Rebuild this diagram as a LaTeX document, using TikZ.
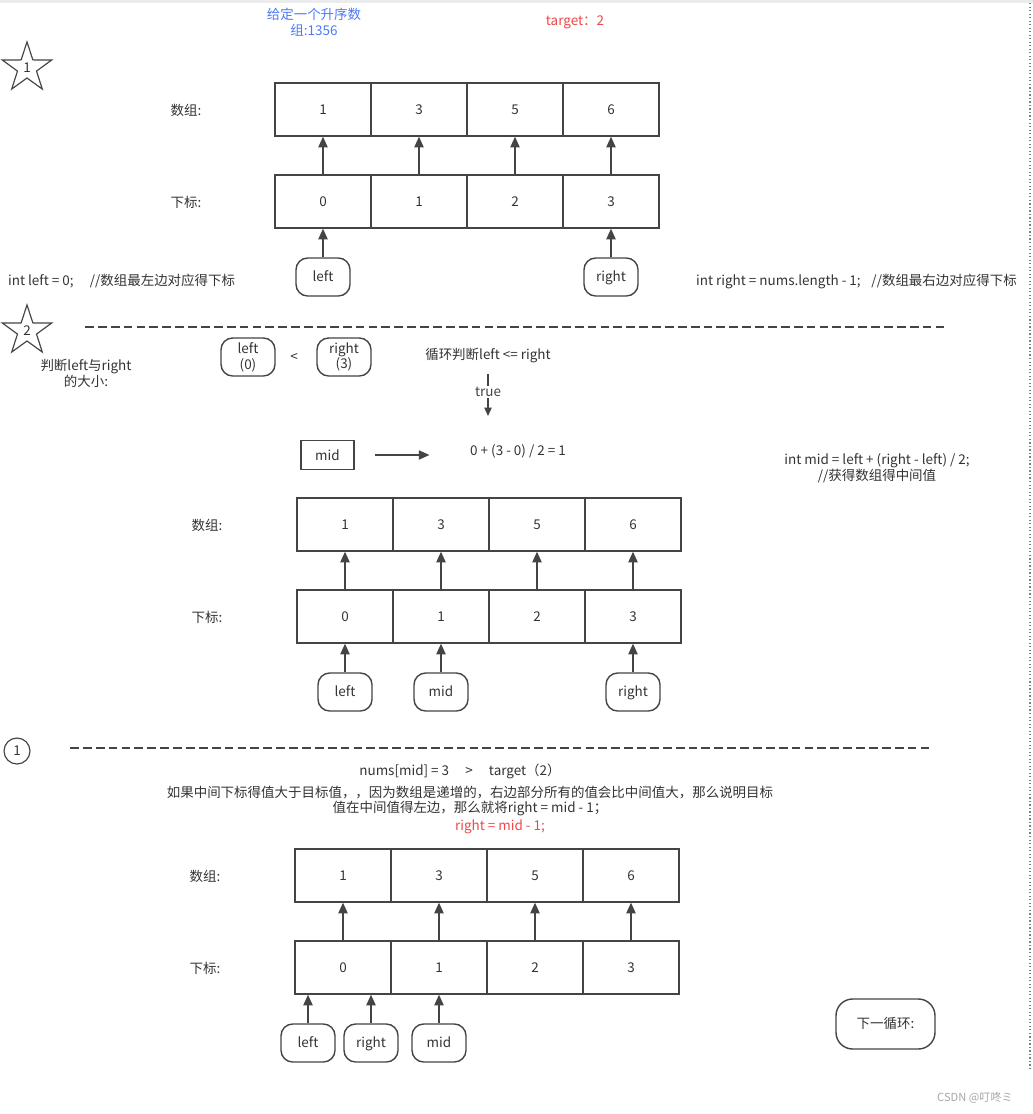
\documentclass[tikz,border=0pt]{standalone}
\usepackage{fontspec}
\setmainfont{Noto Sans CJK SC}
\usetikzlibrary{arrows.meta,positioning,shapes.geometric}
\definecolor{InkGray}{RGB}{51,51,51}
\definecolor{LineGray}{RGB}{68,68,68}
\definecolor{NoteBlue}{RGB}{77,121,246}
\definecolor{NoteRed}{RGB}{240,72,72}

\begin{document}
\begin{tikzpicture}[
    x=0.03cm, y=-0.03cm,
    font=\fontsize{11.5}{13.5}\selectfont, text=InkGray,
    cell/.style={draw=LineGray, line width=1.2pt, minimum width=2.88cm,
                 minimum height=1.59cm, inner sep=0pt},
    pill/.style={draw=LineGray, line width=1.2pt, rounded corners=3.5mm,
                 minimum width=1.62cm, minimum height=1.14cm, align=center, inner sep=2pt,
                 text height=1.6ex, text depth=0.3ex},
    arr/.style={-{Triangle[length=3.2mm,width=2.8mm]}, line width=1.2pt, LineGray},
    cut/.style={dash pattern=on 7.5pt off 3.5pt, line width=1pt, LineGray},
    note/.style={align=center, inner sep=1pt},
    badge/.style={star, star points=5, star point ratio=2.6, draw=LineGray,
                  line width=1pt, minimum size=1.56cm, inner sep=0pt}
  ]
    \useasboundingbox (0,0) rectangle (1033,1114);
    \fill[gray!15] (0,0) rectangle (1033,3);
    \draw[dotted, line width=1pt, gray] (1030,3) -- (1030,1070);

    % step 1: the array and its two ends
    \node[note, text=NoteBlue] (given) at (314,22) {给定一个升序数\\组:1356};
    \node[text=NoteRed] (target) at (575,22) {target：2};
    \node[badge] (s1) at (27,68) {1};
    \node (val1) at (186,110) {数组:};
    \node (idx1) at (186,202) {下标:};
    \foreach \v [count=\i from 0] in {1,3,5,6} {
      \node[cell] (a\i) at (323+96*\i,109.5) {\v};
      \node[cell] (b\i) at (323+96*\i,201.5) {\i};
      \draw[arr] (b\i) -- (a\i);
    }
    \node[pill] (left1) at (323,277) {left};
    \node[pill] (right1) at (611,277) {right};
    \draw[arr] (left1) -- (b0);
    \draw[arr] (right1) -- (b3);
    \node[anchor=west] (code1) at (4,281) {int left = 0;\hspace{1.2em}//数组最左边对应得下标};
    \node[anchor=west] (code2) at (692,281) {int right = nums.length - 1;\hspace{0.8em}//数组最右边对应得下标};

    % step 2: loop test and mid
    \draw[cut] (85,327) -- (947,327);
    \node[badge] (s2) at (27,331) {2};
    \node[note] (ask) at (86,373) {判断left与right\\的大小:};
    \node[pill, text height=, text depth=] (lv) at (248,357) {left\\(0)};
    \node (lt) at (294,357) {<};
    \node[pill, text height=, text depth=] (rv) at (344,357) {right\\(3)};
    \node (cond) at (488,356) {循环判断left <= right};
    \coordinate (t1) at (488,416);
    \draw[-{Triangle[length=2.5mm,width=2.2mm]}, line width=1pt, LineGray, shorten <=2mm]
      (cond) -- node[fill=white, inner sep=1pt] {true} (t1);
    \node[draw=LineGray, line width=1.2pt, minimum width=1.59cm, minimum height=0.87cm] (mid) at (327.5,455) {mid};
    \node (calc) at (518,451) {0 + (3 - 0) / 2 = 1};
    \draw[arr, line width=1pt, shorten <=6mm, shorten >=1.1cm] (mid) -- (mid -| calc.west);
    \node[note] (code3) at (877,468) {int mid = left + (right - left) / 2;\\//获得数组得中间值};
    \node (val2) at (207,525) {数组:};
    \node (idx2) at (207,617) {下标:};
    \foreach \v [count=\i from 0] in {1,3,5,6} {
      \node[cell] (c\i) at (345+96*\i,524.5) {\v};
      \node[cell] (d\i) at (345+96*\i,616.5) {\i};
      \draw[arr] (d\i) -- (c\i);
    }
    \node[pill] (left2) at (345,692) {left};
    \node[pill] (mid2) at (441,692) {mid};
    \node[pill] (right2) at (633,692) {right};
    \draw[arr] (left2) -- (d0);
    \draw[arr] (mid2) -- (d1);
    \draw[arr] (right2) -- (d3);

    % case 1: nums[mid] > target
    \node[circle, draw=LineGray, line width=1pt, minimum size=0.78cm, inner sep=0pt] (s3) at (17,751) {1};
    \draw[cut] (70,748) -- (933,748);
    \node (cmp) at (460,771) {nums[mid] = 3\hspace{1.2em}>\hspace{1.2em}target（2）};
    \node[note] (why) at (470,801) {如果中间下标得值大于目标值，，因为数组是递增的，右边部分所有的值会比中间值大，那么说明目标\\值在中间值得左边，那么就将right = mid - 1；};
    \node[text=NoteRed] (upd) at (500,827) {right = mid - 1;};
    \node (val3) at (205,876) {数组:};
    \node (idx3) at (205,968) {下标:};
    \foreach \v [count=\i from 0] in {1,3,5,6} {
      \node[cell] (e\i) at (343+96*\i,875.5) {\v};
      \node[cell] (f\i) at (343+96*\i,967.5) {\i};
      \draw[arr] (f\i) -- (e\i);
    }
    \node[pill] (left3) at (308,1043) {left};
    \node[pill] (right3) at (371,1043) {right};
    \node[pill] (mid3) at (439,1043) {mid};
    \draw[arr] (left3) -- (left3 |- f0.south);
    \draw[arr] (right3) -- (right3 |- f0.south);
    \draw[arr] (mid3) -- (f1);
    \node[pill, minimum width=2.97cm, minimum height=1.5cm, rounded corners=5mm] (next) at (885.5,1024) {下一循环:};
    \node[text=gray!70, font=\fontsize{9.5}{11}\selectfont] (mark) at (975,1098) {CSDN @叮咚ミ};
  \end{tikzpicture}
\end{document}
